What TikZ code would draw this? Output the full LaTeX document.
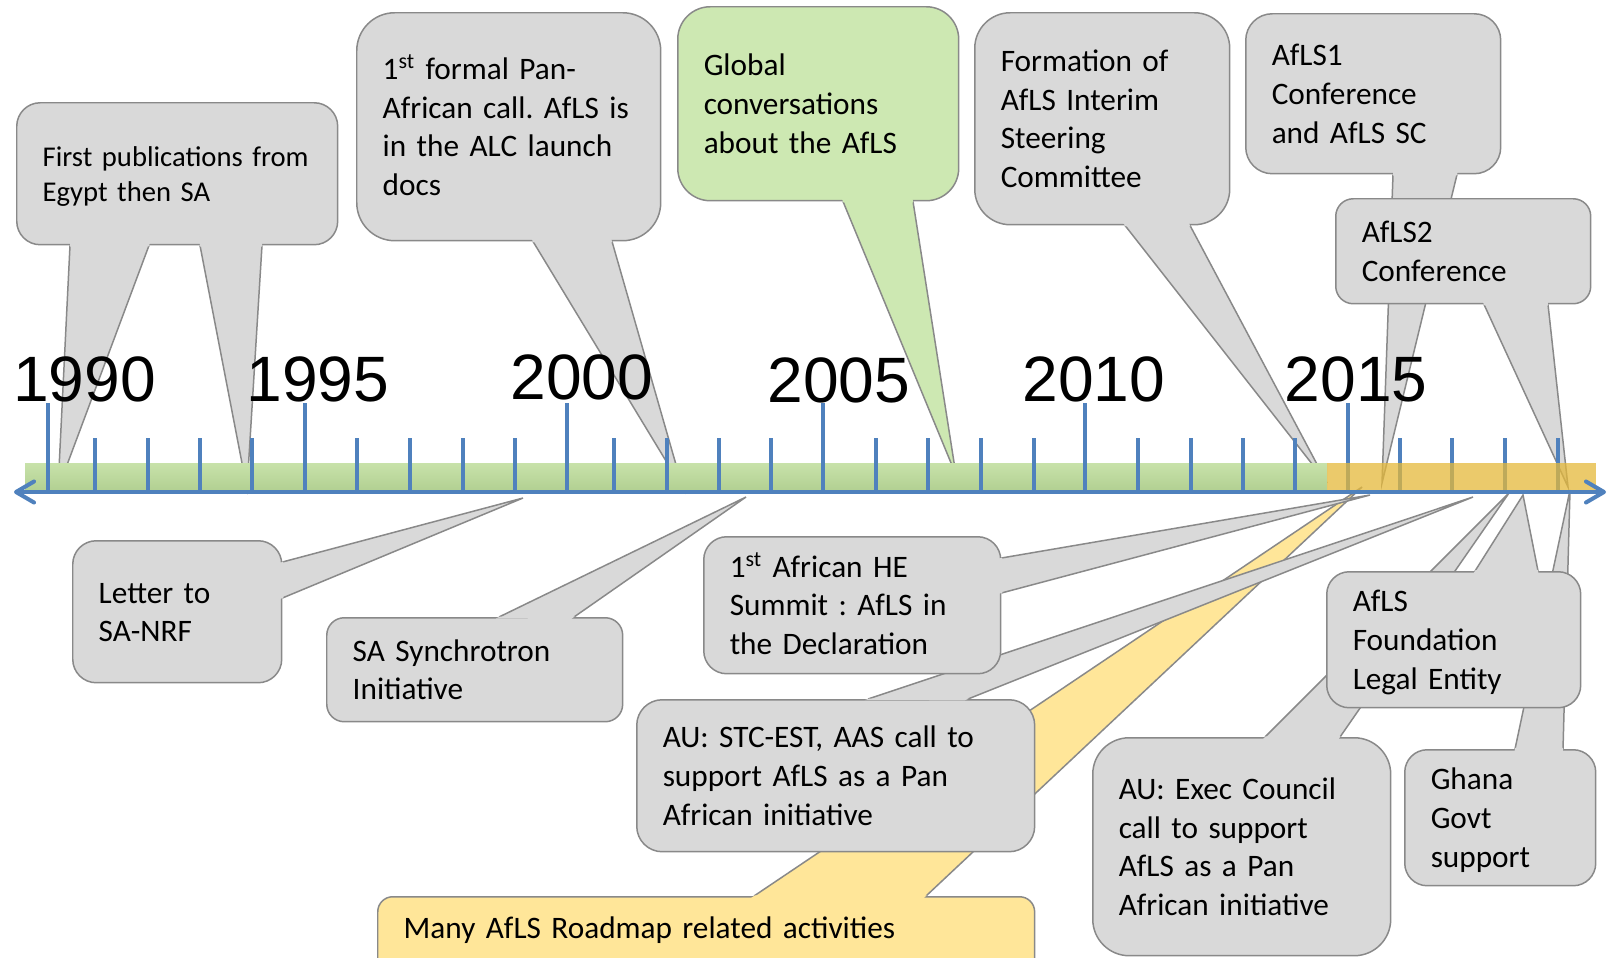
\documentclass[tikz,border=0pt]{standalone}
\usepackage{fontspec}
\setmainfont{Carlito}
\newfontfamily\yearfont{Liberation Sans}
\usetikzlibrary{arrows.meta,calc}
\frenchspacing

\definecolor{callgray}{HTML}{D9D9D9}
\definecolor{calledge}{HTML}{898989}
\definecolor{callgreen}{HTML}{CDE8B2}
\definecolor{callyellow}{HTML}{FFE699}
\definecolor{axisblue}{HTML}{4F81BD}
\definecolor{bandgreenA}{HTML}{C8E2AA}
\definecolor{bandgreenB}{HTML}{B2D092}
\definecolor{bandyellow}{HTML}{E4B83A}

\pgfdeclarelayer{bg}
\pgfsetlayers{bg,main}

\newcommand\calltext{\fontsize{17.8}{22}\selectfont}
\newcommand\pubtext{\fontsize{16.3}{19.8}\selectfont}

% wedge from two base points on a box to a tip on the axis
\newcommand\callwedge[4][callgray]{%
  \coordinate (wa) at #2;
  \coordinate (wb) at #3;
  \begin{pgfonlayer}{bg}
    \filldraw[wedge, fill=#1] (wa) -- (#4) -- (wb);
  \end{pgfonlayer}
  \fill[#1] ($(wa)!-2pt!(#4)$) -- ($(wa)!0.6pt!(#4)$) -- ($(wb)!0.6pt!(#4)$) -- ($(wb)!-2pt!(#4)$) -- cycle;
}

\begin{document}
\frenchspacing
\begin{tikzpicture}[
  x=0.02cm, y=-0.02cm,
  callout/.style={draw=calledge, fill=callgray, line width=0.85pt, anchor=north west, align=left,
    inner xsep=0.52cm, inner ysep=0pt, font=\calltext,
    execute at begin node={\rule{0pt}{\dimexpr0.7\baselineskip+3.4pt\relax}},
    execute at end node=\strut},
  wedge/.style={draw=calledge, line width=0.85pt},
  yearlbl/.style={font=\yearfont\fontsize{36.5}{40}\selectfont, inner sep=0pt},
  tickmark/.style={axisblue, line width=2pt},
  axisline/.style={axisblue, line width=2.3pt, >={Straight Barb[length=0.36cm, width=0.42cm, round]}, <->}
]
\useasboundingbox (0,0) rectangle (1608,957);

% tips on the time axis
\coordinate (tipPub1) at (58,489);
\coordinate (tipPub2) at (247,489);
\coordinate (tipLetter) at (523,498);
\coordinate (tipPanaf) at (683,489);
\coordinate (tipSynch) at (746,497);
\coordinate (tipGlob) at (956,475);
\coordinate (tipForm) at (1327,483);
\coordinate (tipYellow) at (1362,487);
\coordinate (tipHE) at (1370,495);
\coordinate (tipAfls1) at (1382,483);
\coordinate (tipAUstc) at (1473,497);
\coordinate (tipAUexec) at (1509,493);
\coordinate (tipFound) at (1523,495);
\coordinate (tipAfls2) at (1568,487);
\coordinate (tipGhana) at (1570,490);
\coordinate (axL) at (14,492);
\coordinate (axR) at (1606,492);

% callout boxes
\node[callout, rounded corners=0.47cm, minimum width=6.42cm, minimum height=2.84cm, text width=5.38cm, font=\pubtext] (pub) at (16,102) {First publications from\\Egypt then SA};
\node[callout, rounded corners=0.76cm, minimum width=6.08cm, minimum height=4.56cm, text width=5.04cm] (panaf) at (356,12) {1\textsuperscript{st} formal Pan-\\African call. AfLS is\\in the ALC launch\\docs};
\node[callout, fill=callgreen, rounded corners=0.65cm, minimum width=5.62cm, minimum height=3.88cm, text width=4.58cm] (glob) at (677,6) {Global\\conversations\\about the AfLS};
\node[callout, rounded corners=0.71cm, minimum width=5.10cm, minimum height=4.24cm, text width=4.06cm] (form) at (974,12) {Formation of\\AfLS Interim\\Steering\\Committee};
\node[callout, rounded corners=0.53cm, minimum width=5.10cm, minimum height=3.20cm, text width=4.06cm] (afls1) at (1245,13) {AfLS1\\Conference\\and AfLS SC};
\node[callout, rounded corners=0.35cm, minimum width=5.10cm, minimum height=2.10cm, text width=4.06cm] (afls2) at (1335,198) {AfLS2\\Conference};
\node[callout, rounded corners=0.47cm, minimum width=4.18cm, minimum height=2.84cm, text width=3.14cm] (letter) at (72,540) {Letter to\\SA-NRF};
\node[callout, rounded corners=0.35cm, minimum width=5.92cm, minimum height=2.08cm, text width=4.88cm] (synch) at (326,617) {SA Synchrotron\\Initiative};
\node[callout, rounded corners=0.46cm, minimum width=5.94cm, minimum height=2.74cm, text width=4.90cm] (he) at (703,536) {1\textsuperscript{st} African HE\\Summit : AfLS in\\the Declaration};
\node[callout, rounded corners=0.51cm, minimum width=7.96cm, minimum height=3.04cm, text width=6.92cm] (austc) at (636,699) {AU: STC-EST, AAS call to\\support AfLS as a Pan\\African initiative};
\node[callout, fill=callyellow, rounded corners=0.3cm, minimum width=13.14cm, text width=12.10cm, text height=0.84cm, text depth=1.4cm] (many) at (377,896) {Many AfLS Roadmap related activities};
\node[callout, rounded corners=0.45cm, minimum width=5.08cm, minimum height=2.72cm, text width=4.04cm] (found) at (1326,571) {AfLS\\Foundation\\Legal Entity};
\node[callout, rounded corners=0.73cm, minimum width=5.96cm, minimum height=4.36cm, text width=4.92cm] (auexec) at (1092,737) {AU: Exec Council\\call to support\\AfLS as a Pan\\African initiative};
\node[callout, rounded corners=0.45cm, minimum width=3.82cm, minimum height=2.72cm, text width=2.78cm] (ghana) at (1404,749) {Ghana\\Govt\\support};

% wedges
\callwedge[callyellow]{($(many.north west)+(377,0)$)}{($(many.north west)+(549,0)$)}{tipYellow}
\callwedge{($(pub.south west)+(54,0)$)}{($(pub.south west)+(133,0)$)}{tipPub1}
\callwedge{($(pub.south west)+(184,0)$)}{($(pub.south west)+(246,0)$)}{tipPub2}
\callwedge{($(panaf.south west)+(177,0)$)}{($(panaf.south west)+(256,0)$)}{tipPanaf}
\callwedge[callgreen]{($(glob.south west)+(166,0)$)}{($(glob.south west)+(236,0)$)}{tipGlob}
\callwedge{($(form.south west)+(151,0)$)}{($(form.south west)+(216,0)$)}{tipForm}
\callwedge{($(afls1.south west)+(148,0)$)}{($(afls1.south west)+(212,0)$)}{tipAfls1}
\callwedge{($(afls2.south west)+(149,0)$)}{($(afls2.south west)+(213,0)$)}{tipAfls2}
\callwedge{($(letter.north east)+(0,22)$)}{($(letter.north east)+(0,58)$)}{tipLetter}
\callwedge{($(synch.north west)+(173,0)$)}{($(synch.north west)+(248,0)$)}{tipSynch}
\callwedge{($(austc.north west)+(232,0)$)}{($(austc.north west)+(332,0)$)}{tipAUstc}
\callwedge{($(he.north east)+(0,22)$)}{($(he.north east)+(0,57)$)}{tipHE}
\callwedge{($(auexec.north west)+(173,0)$)}{($(auexec.north west)+(248,0)$)}{tipAUexec}
\callwedge{($(ghana.north west)+(111,0)$)}{($(ghana.north west)+(159,0)$)}{tipGhana}
\callwedge{($(found.north west)+(149,0)$)}{($(found.north west)+(212,0)$)}{tipFound}

% time axis
\shade[top color=bandgreenA, bottom color=bandgreenB] (25,463) rectangle (1327,490);
\foreach \tx [count=\i from 0] in {48,95,148,200,252,305,357,410,463,515,567,614,667,719,771,823,876,928,981,1034,1085,1138,1191,1243,1295,1348,1400,1452,1505,1558}{
  \pgfmathsetmacro\ty{mod(\i,5)==0 ? 403 : 438}
  \draw[tickmark] (\tx,\ty) -- (\tx,492);
}
\fill[bandyellow, opacity=0.75] (1327,463) rectangle (1596,490);
\draw[axisline] (axL) -- (axR);

\node[yearlbl] (y1990) at (84.6,379) {1990};
\node[yearlbl] (y1995) at (318,379) {1995};
\node[yearlbl] (y2000) at (582,377.5) {2000};
\node[yearlbl] (y2005) at (839,380) {2005};
\node[yearlbl] (y2010) at (1094,379.5) {2010};
\node[yearlbl] (y2015) at (1356,379) {2015};
\end{tikzpicture}
\end{document}
